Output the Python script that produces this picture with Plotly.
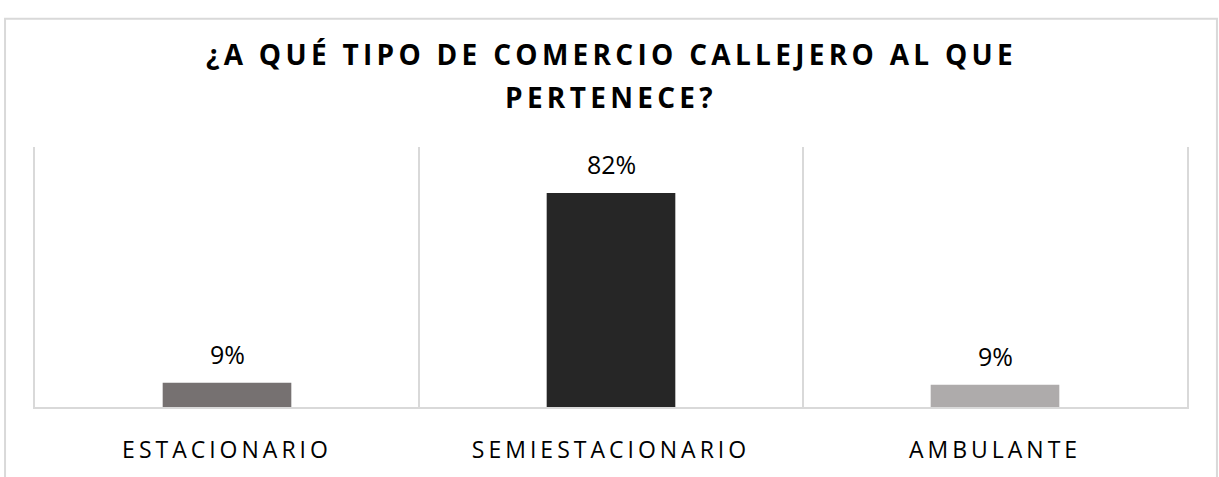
import plotly.graph_objects as go

categories = ["ESTACIONARIO", "SEMIESTACIONARIO", "AMBULANTE"]
values = [0.093, 0.823, 0.086]
value_labels = ["9%", "82%", "9%"]
bar_colors = ["#767171", "#262626", "#AEABAB"]
title_lines = ["¿A QUÉ TIPO DE COMERCIO CALLEJERO AL QUE", "PERTENECE?"]

FONT = "Open Sans"
GRID = "#D9D9D9"

fig = go.Figure()
fig.add_trace(go.Bar(
    x=categories, y=values, marker=dict(color=bar_colors, line=dict(width=0)),
    width=0.335, hoverinfo="skip",
))

for c, v, t in zip(categories, values, value_labels):
    fig.add_annotation(x=c, y=v, xref="x", yref="y", text=t, showarrow=False,
                       yanchor="bottom", yshift=10,
                       font=dict(family=FONT, size=25, color="#000000"))

title_y = [1.357, 1.194]
for line, ty in zip(title_lines, title_y):
    fig.add_annotation(x=0.5, y=ty, xref="paper", yref="paper",
                       text='<span style="letter-spacing:4.3px"><b>' + line + '</b></span>',
                       showarrow=False, xanchor="center", yanchor="middle",
                       font=dict(family=FONT, size=28, color="#000000"))

# outer chart border
fig.add_shape(type="rect", xref="paper", yref="paper", x0=-0.026, x1=1.026,
              y0=-0.6, y1=1.4934, line=dict(color=GRID, width=2), layer="below")

fig.update_layout(
    width=1219, height=477,
    margin=dict(l=35, r=32, t=147, b=66.5),
    paper_bgcolor="#FFFFFF", plot_bgcolor="#FFFFFF",
    showlegend=False, bargap=0.665,
    xaxis=dict(
        type="category", tickson="boundaries", showgrid=True, gridcolor=GRID, gridwidth=2,
        showline=True, linecolor=GRID, linewidth=2, ticks="", zeroline=False,
        tickvals=categories,
        ticktext=['<span style="letter-spacing:4px">' + c + '</span>' for c in categories],
        tickfont=dict(family=FONT, size=23, color="#000000"),
        ticklabelstandoff=21,
    ),
    yaxis=dict(range=[0, 1], visible=True, showticklabels=False, ticks="",
               showgrid=False, zeroline=False,
               showline=True, mirror=True, linecolor=GRID, linewidth=2),
)

fig.write_html("out.html", config={"displayModeBar": False},
               post_script="document.body.style.margin='0';")
